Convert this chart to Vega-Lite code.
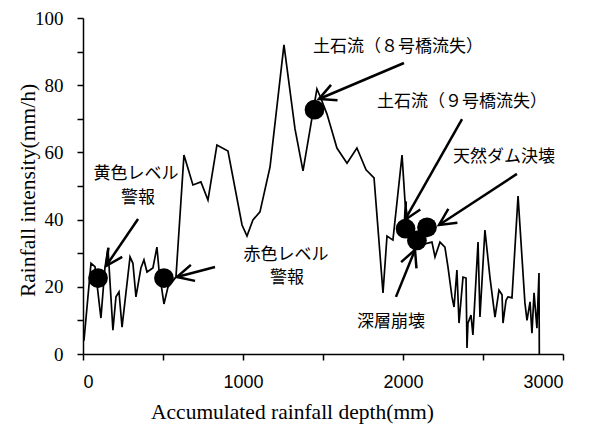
{
  "$schema": "https://vega.github.io/schema/vega-lite/v6.json",
  "width": 480,
  "height": 336,
  "autosize": "none",
  "padding": {"left": 83, "top": 18, "right": 33, "bottom": 72},
  "background": "white",
  "config": {
    "view": {"stroke": null},
    "axis": {"grid": false, "domainColor": "black", "tickColor": "black", "labelColor": "black", "titleColor": "black", "domainWidth": 1.5, "tickWidth": 1.5, "tickSize": 6, "titleFontWeight": "normal"}
  },
  "datasets": {
    "rain": [
      {"x":6,"y":4},{"x":50,"y":27},{"x":75,"y":26},{"x":112,"y":10.7},{"x":137,"y":25.6},{"x":156,"y":31.5},{"x":187,"y":7.1},{"x":206,"y":17},{"x":225,"y":18.5},{"x":244,"y":8},{"x":294,"y":28.9},{"x":312,"y":27},{"x":331,"y":17},{"x":362,"y":25.6},{"x":381,"y":28},{"x":400,"y":24.4},{"x":437,"y":25.6},{"x":462,"y":31.8},{"x":475,"y":25},{"x":506,"y":14.9},{"x":531,"y":19.9},{"x":581,"y":22.9},{"x":631,"y":59.2},{"x":687,"y":50.3},{"x":737,"y":51.2},{"x":781,"y":45.8},{"x":837,"y":62.2},{"x":906,"y":60.4},{"x":994,"y":38.4},{"x":1025,"y":35.1},{"x":1062,"y":39.9},{"x":1106,"y":42.3},{"x":1169,"y":55.7},{"x":1256,"y":92},{"x":1325,"y":67},{"x":1375,"y":54.5},{"x":1462,"y":78.9},{"x":1481,"y":76.8},{"x":1525,"y":71.4},{"x":1587,"y":61.3},{"x":1650,"y":56.8},{"x":1712,"y":61.3},{"x":1769,"y":54.8},{"x":1819,"y":52.4},{"x":1875,"y":18.2},{"x":1900,"y":35.1},{"x":1937,"y":33.9},{"x":1994,"y":59.2},{"x":2012,"y":45.8},{"x":2044,"y":35.4},{"x":2106,"y":32.4},{"x":2181,"y":33.3},{"x":2200,"y":28.9},{"x":2231,"y":33.3},{"x":2262,"y":31.8},{"x":2281,"y":25.9},{"x":2306,"y":17},{"x":2319,"y":14},{"x":2337,"y":25},{"x":2350,"y":9.2},{"x":2375,"y":22.9},{"x":2394,"y":22.6},{"x":2400,"y":1.8},{"x":2406,"y":9.2},{"x":2425,"y":11.6},{"x":2437,"y":5.7},{"x":2469,"y":33.3},{"x":2481,"y":11},{"x":2512,"y":36.9},{"x":2544,"y":22.6},{"x":2575,"y":11},{"x":2600,"y":19},{"x":2619,"y":17.6},{"x":2625,"y":9.2},{"x":2644,"y":16},{"x":2656,"y":17},{"x":2681,"y":16.7},{"x":2719,"y":47},{"x":2762,"y":15.2},{"x":2775,"y":10},{"x":2794,"y":15.5},{"x":2806,"y":6.2},{"x":2819,"y":18.2},{"x":2837,"y":7.7},{"x":2850,"y":24.1},{"x":2852,"y":0}
    ],
    "events": [
      {"x":94,"y":22.6},{"x":506,"y":22.6},{"x":1447,"y":72.7},{"x":2016,"y":37.3},{"x":2087,"y":33.8},{"x":2150,"y":37.7}
    ],
    "arrows": [
      {"x":344,"y":40.2,"x2":144,"y2":26.2,"angle":124.2},
      {"x":825,"y":25.9,"x2":587,"y2":22.9,"angle":165.3},
      {"x":2006,"y":86.6,"x2":1475,"y2":75.9,"angle":157},
      {"x":2369,"y":69.9,"x2":2012,"y2":39.9,"angle":119.4},
      {"x":2712,"y":53.6,"x2":2225,"y2":38.4,"angle":146.8},
      {"x":1956,"y":17,"x2":2075,"y2":31,"angle":292}
    ],
    "labelsCenter": [
      {"x":331,"y":53.6,"text":"黄色レベル"},
      {"x":344,"y":46.4,"text":"警報"},
      {"x":1269,"y":29.5,"text":"赤色レベル"},
      {"x":1275,"y":22.6,"text":"警報"}
    ],
    "labelsLeft": [
      {"x":1437,"y":91.4,"text":"土石流（８号橋流失）"},
      {"x":1837,"y":75,"text":"土石流（９号橋流失）"},
      {"x":2312,"y":58.6,"text":"天然ダム決壊"},
      {"x":1712,"y":9.5,"text":"深層崩壊"}
    ]
  },
  "encoding": {
    "x": {
      "field": "x", "type": "quantitative",
      "scale": {"domain": [0, 3000], "nice": false, "zero": false},
      "title": "Accumulated rainfall depth(mm)",
      "axis": {
        "values": [0, 500, 1000, 1500, 2000, 2500, 3000],
        "format": "d",
        "labelExpr": "datum.value % 1000 === 0 ? datum.label : ''",
        "labelFont": "Liberation Sans", "labelFontSize": 18, "labelPadding": 13,
        "titleFont": "Liberation Serif", "titleFontSize": 21.5,
        "titleX": 209, "titleY": 58, "titleBaseline": "middle", "titleAlign": "center"
      }
    },
    "y": {
      "field": "y", "type": "quantitative",
      "scale": {"domain": [0, 100], "nice": false, "zero": false},
      "title": "Rainfall intensity(mm/h)",
      "axis": {
        "values": [0, 10, 20, 30, 40, 50, 60, 70, 80, 90, 100],
        "format": "d",
        "labelExpr": "datum.value % 20 === 0 ? datum.label : ''",
        "labelFont": "Liberation Serif", "labelFontSize": 19, "labelPadding": 14,
        "titleFont": "Liberation Serif", "titleFontSize": 21.5,
        "titleX": -55, "titleY": 172, "titleBaseline": "middle", "titleAlign": "center", "titleAngle": -90
      }
    }
  },
  "layer": [
    {
      "data": {"name": "rain"},
      "mark": {"type": "line", "color": "black", "strokeWidth": 1.7}
    },
    {
      "data": {"name": "events"},
      "mark": {"type": "point", "filled": true, "color": "black", "size": 390, "opacity": 1}
    },
    {
      "data": {"name": "arrows"},
      "mark": {"type": "rule", "color": "black", "strokeWidth": 2.5},
      "encoding": {"x2": {"field": "x2"}, "y2": {"field": "y2"}}
    },
    {
      "data": {"name": "arrows"},
      "mark": {"type": "point", "shape": "M-1,-0.5L0,0L-1,0.5", "filled": false, "color": "black", "strokeWidth": 2.5, "size": 1100, "opacity": 1},
      "encoding": {
        "x": {"field": "x2", "type": "quantitative"},
        "y": {"field": "y2", "type": "quantitative"},
        "angle": {"field": "angle", "type": "quantitative", "scale": null}
      }
    },
    {
      "data": {"name": "labelsCenter"},
      "mark": {"type": "text", "font": "Noto Sans CJK JP", "fontSize": 17, "color": "black", "baseline": "middle", "align": "center"},
      "encoding": {"text": {"field": "text"}}
    },
    {
      "data": {"name": "labelsLeft"},
      "mark": {"type": "text", "font": "Noto Sans CJK JP", "fontSize": 17, "color": "black", "baseline": "middle", "align": "left"},
      "encoding": {"text": {"field": "text"}}
    }
  ]
}
